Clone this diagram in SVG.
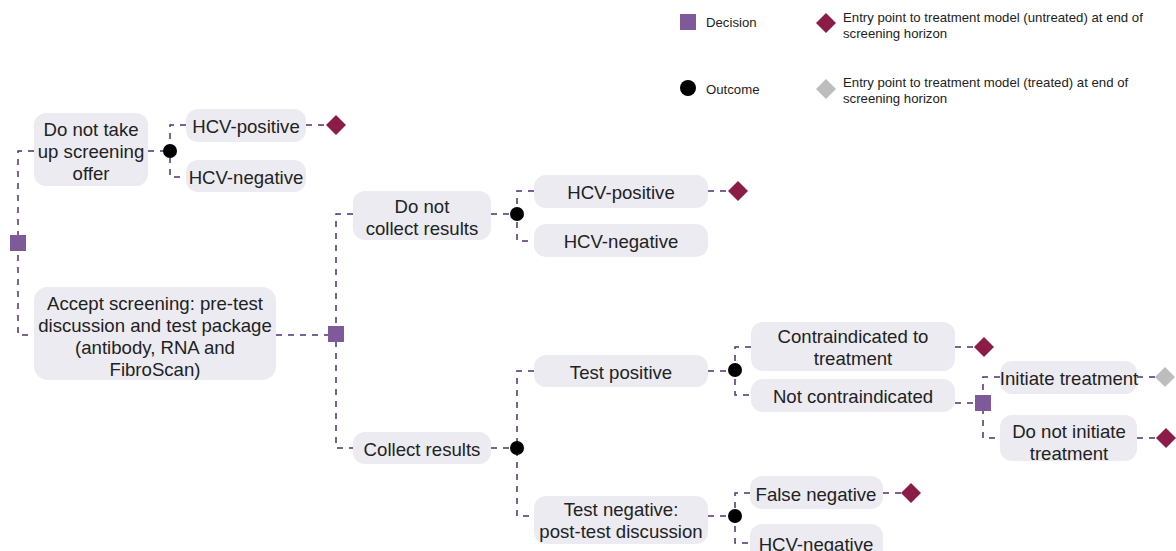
<svg xmlns="http://www.w3.org/2000/svg" width="1176" height="551" viewBox="0 0 1176 551">
<style>
.box{fill:#ECEBF2;}
.t{font-family:"Liberation Sans",Arial,sans-serif;font-size:18.6px;fill:#222;text-anchor:middle;dominant-baseline:central;}
.lg{font-family:"Liberation Sans",Arial,sans-serif;font-size:13.2px;fill:#222;dominant-baseline:central;}
.c{fill:none;stroke:#4E2F72;stroke-width:1.5;stroke-dasharray:6,6;}
.dec{fill:#7E5A9B;}
.out{fill:#000;}
.unt{fill:#8B1C48;}
.trt{fill:#BDBDBD;}
</style>
<defs>
<path id="dia" d="M0,-10 L10,0 L0,10 L-10,0 Z"/>
</defs>
<rect width="1176" height="551" fill="#fff"/>
<g id="connectors">
<path class="c" d="M34,151 H18 V335 H34"/>
<path class="c" d="M148,151 H170"/>
<path class="c" d="M186,125 H170 V177 H186"/>
<path class="c" d="M306,125 H336"/>
<path class="c" d="M276,335 H336"/>
<path class="c" d="M353,214 H336 V448 H353"/>
<path class="c" d="M491,214 H517"/>
<path class="c" d="M534,191 H517 V241 H534"/>
<path class="c" d="M708,191 H738"/>
<path class="c" d="M491,448 H517"/>
<path class="c" d="M534,371 H517 V516 H534"/>
<path class="c" d="M708,371 H735"/>
<path class="c" d="M751,347 H735 V395 H751"/>
<path class="c" d="M955,347 H984"/>
<path class="c" d="M955,403 H983"/>
<path class="c" d="M1000,377 H983 V438 H1000"/>
<path class="c" d="M1137,377 H1165"/>
<path class="c" d="M1137,438 H1166"/>
<path class="c" d="M708,516 H735"/>
<path class="c" d="M750,493 H735 V543 H750"/>
<path class="c" d="M883,493 H911"/>
</g>
<g id="legend">
<rect class="dec" x="680" y="14" width="16" height="16"/>
<text class="lg" x="706" y="22.5">Decision</text>
<use href="#dia" class="unt" x="826" y="23"/>
<text class="lg" x="843" y="17.5">Entry point to treatment model (untreated) at end of</text>
<text class="lg" x="843" y="33.5">screening horizon</text>
<circle class="out" cx="688" cy="88" r="8"/>
<text class="lg" x="706" y="89.5">Outcome</text>
<use href="#dia" class="trt" x="826" y="89"/>
<text class="lg" x="843" y="82.5">Entry point to treatment model (treated) at end of</text>
<text class="lg" x="843" y="98.5">screening horizon</text>
</g>
<g id="d-root"><rect class="dec" x="10" y="235" width="16" height="16"/></g>
<g id="n-notake"><rect class="box" x="34" y="113" width="114" height="73" rx="12"/>
<text class="t" x="91" y="129">Do not take</text><text class="t" x="91" y="151">up screening</text><text class="t" x="91" y="173">offer</text></g>
<g id="o-notake"><circle class="out" cx="170" cy="151" r="7"/></g>
<g id="n-pos1"><rect class="box" x="186" y="109" width="120" height="33" rx="12"/><text class="t" x="246" y="126.5">HCV-positive</text></g>
<g id="n-neg1"><rect class="box" x="186" y="160" width="120" height="32" rx="12"/><text class="t" x="246" y="177.5">HCV-negative</text></g>
<g id="e-pos1"><use href="#dia" class="unt" x="336" y="125"/></g>
<g id="n-accept"><rect class="box" x="34" y="287" width="242" height="93" rx="14"/>
<text class="t" x="155" y="303">Accept screening: pre-test</text><text class="t" x="155" y="325">discussion and test package</text><text class="t" x="155" y="347">(antibody, RNA and</text><text class="t" x="155" y="369">FibroScan)</text></g>
<g id="d-accept"><rect class="dec" x="328" y="326" width="16" height="16"/></g>
<g id="n-nocollect"><rect class="box" x="353" y="191" width="138" height="49" rx="12"/>
<text class="t" x="422" y="206">Do not</text><text class="t" x="422" y="228">collect results</text></g>
<g id="o-nocollect"><circle class="out" cx="517" cy="214" r="7"/></g>
<g id="n-pos2"><rect class="box" x="534" y="175" width="174" height="33" rx="12"/><text class="t" x="621" y="192">HCV-positive</text></g>
<g id="n-neg2"><rect class="box" x="534" y="224" width="174" height="33" rx="12"/><text class="t" x="621" y="241.5">HCV-negative</text></g>
<g id="e-pos2"><use href="#dia" class="unt" x="738" y="191"/></g>
<g id="n-collect"><rect class="box" x="353" y="432" width="138" height="32" rx="12"/><text class="t" x="422" y="449">Collect results</text></g>
<g id="o-collect"><circle class="out" cx="517" cy="448" r="7"/></g>
<g id="n-testpos"><rect class="box" x="534" y="355" width="174" height="32" rx="12"/><text class="t" x="621" y="372">Test positive</text></g>
<g id="o-testpos"><circle class="out" cx="735" cy="370" r="7"/></g>
<g id="n-contra"><rect class="box" x="751" y="322" width="204" height="49" rx="12"/>
<text class="t" x="853" y="336">Contraindicated to</text><text class="t" x="853" y="358">treatment</text></g>
<g id="e-contra"><use href="#dia" class="unt" x="984" y="347"/></g>
<g id="n-notcontra"><rect class="box" x="751" y="379" width="204" height="33" rx="12"/><text class="t" x="853" y="396">Not contraindicated</text></g>
<g id="d-notcontra"><rect class="dec" x="975" y="395" width="16" height="16"/></g>
<g id="n-initiate"><rect class="box" x="1000" y="361" width="137" height="33" rx="12"/><text class="t" x="1069" y="378">Initiate treatment</text></g>
<g id="e-initiate"><use href="#dia" class="trt" x="1165" y="377"/></g>
<g id="n-noinit"><rect class="box" x="1000" y="415" width="137" height="46" rx="12"/>
<text class="t" x="1069" y="431">Do not initiate</text><text class="t" x="1069" y="453">treatment</text></g>
<g id="e-noinit"><use href="#dia" class="unt" x="1166" y="438"/></g>
<g id="n-testneg"><rect class="box" x="534" y="496" width="174" height="48" rx="12"/>
<text class="t" x="621" y="509">Test negative:</text><text class="t" x="621" y="531">post-test discussion</text></g>
<g id="o-testneg"><circle class="out" cx="735" cy="516" r="7"/></g>
<g id="n-falseneg"><rect class="box" x="750" y="476" width="133" height="33" rx="12"/><text class="t" x="816" y="494">False negative</text></g>
<g id="e-falseneg"><use href="#dia" class="unt" x="911" y="493"/></g>
<g id="n-neg3"><rect class="box" x="750" y="524" width="133" height="40" rx="12"/><text class="t" x="816" y="544">HCV-negative</text></g>
</svg>
